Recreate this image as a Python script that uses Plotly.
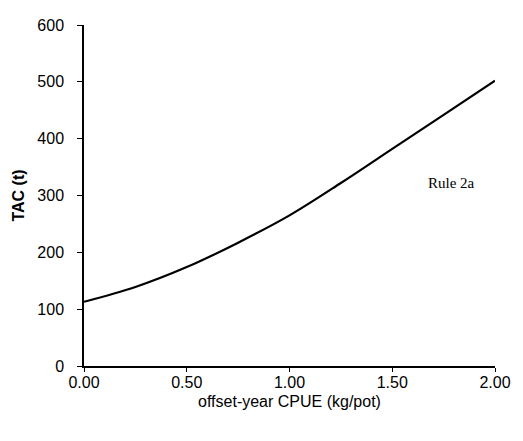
import plotly.graph_objects as go

cpue = [0.0, 0.25, 0.5, 0.75, 1.0, 1.25, 1.5, 1.75, 2.0]
tac = [113, 139, 174, 217, 265, 322, 382, 442, 502]

x_ticks = [0.0, 0.5, 1.0, 1.5, 2.0]
x_tick_labels = ["0.00", "0.50", "1.00", "1.50", "2.00"]
y_ticks = [0, 100, 200, 300, 400, 500, 600]

fig = go.Figure()
fig.add_trace(go.Scatter(x=cpue, y=tac, mode="lines",
                         line=dict(color="black", width=2.2, shape="spline", smoothing=1.0),
                         showlegend=False, hoverinfo="skip"))

fig.add_annotation(x=1.79, y=322, text="Rule 2a", showarrow=False,
                   font=dict(family="Liberation Serif", size=15, color="black"))

tick_font = dict(family="Liberation Sans", size=16, color="black")
fig.update_layout(
    width=523, height=441,
    margin=dict(l=84, r=18, t=25, b=75),
    paper_bgcolor="white", plot_bgcolor="white",
    xaxis=dict(range=[0, 2.0], tickvals=x_ticks, ticktext=x_tick_labels, showline=True,
               linecolor="black", linewidth=1.5, ticks="outside", ticklen=4, tickcolor="black",
               showgrid=False, zeroline=False, tickfont=tick_font, ticklabelstandoff=-3,
               title=dict(text="offset-year CPUE (kg/pot)",
                          font=dict(family="Liberation Sans", size=16, color="black"), standoff=6)),
    yaxis=dict(range=[0, 600], tickvals=y_ticks, showline=True, linecolor="black", linewidth=1.5,
               ticks="outside", ticklen=5, tickcolor="black", showgrid=False, zeroline=False,
               tickfont=tick_font, ticklabelstandoff=10,
               title=dict(text="<b>TAC (t)</b>",
                          font=dict(family="Liberation Sans", size=16, color="black"), standoff=9)),
)

fig.write_html("out.html")
